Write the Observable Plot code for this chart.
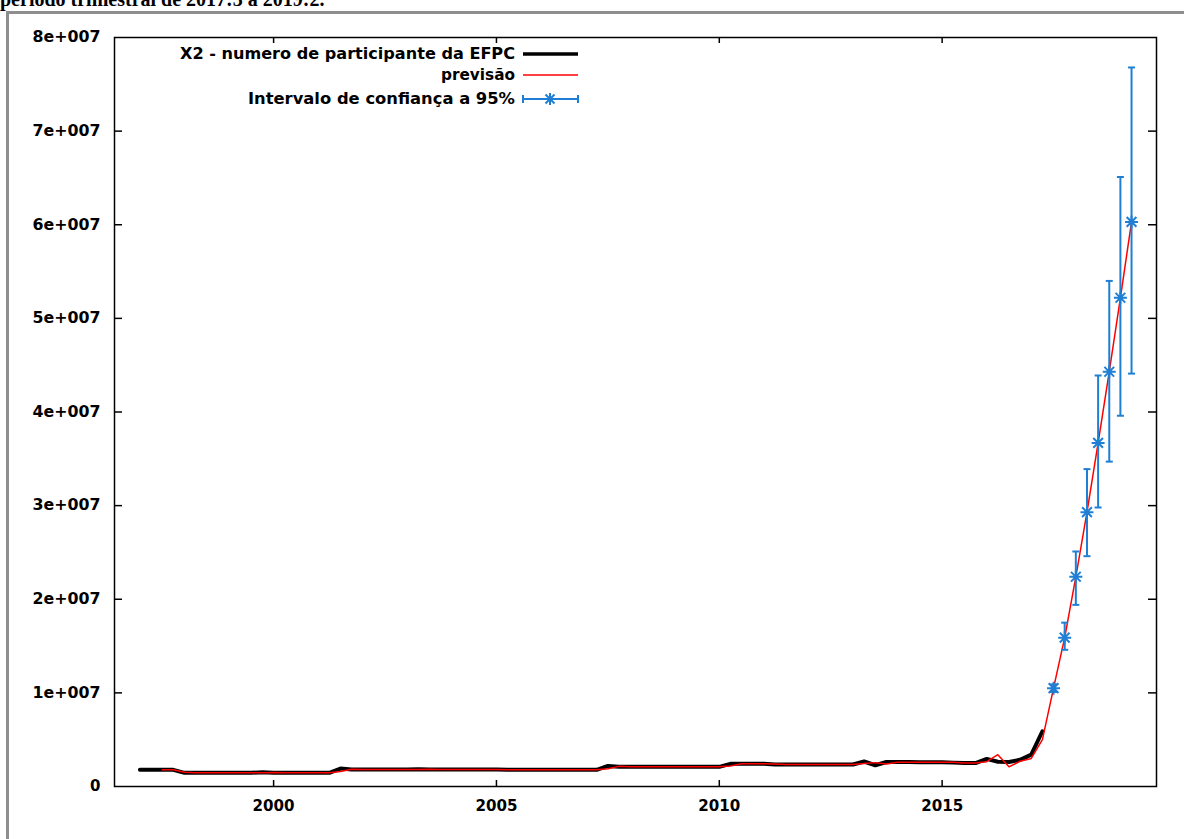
<!DOCTYPE html>
<html>
<head>
<meta charset="utf-8">
<script src="https://cdn.jsdelivr.net/npm/d3@7"></script>
<script src="https://cdn.jsdelivr.net/npm/@observablehq/plot@0.6"></script>
<style>
  html, body { margin: 0; padding: 0; background: #fff; width: 1184px; height: 839px; overflow: hidden; }
  #wrap { position: relative; width: 1184px; height: 839px; }
  #title { position: absolute; left: 0; top: -11px; font-family: "Liberation Serif", serif; font-weight: bold; font-size: 20px; line-height: 1; white-space: nowrap; color: #000; }
  #frame { position: absolute; left: 6px; top: 11px; width: 1300px; height: 900px; border-left: 3px solid #8e8e8e; border-top: 3px solid #8e8e8e; background: #fff; }
  #chart { position: absolute; left: 0; top: 0; }
  #legend { position: absolute; left: 0; top: 0; pointer-events: none; }
</style>
</head>
<body>
<div id="wrap">
  <div id="title">período trimestral de 2017:3 a 2019:2.</div>
  <div id="frame"></div>
  <div id="chart"></div>
  <svg id="legend" width="1184" height="839"></svg>
</div>
<script>
// ---- data ----
const firstYear = 1997;          // first observation 1997:1, quarterly
const observed = [               // X2 - numero de participante da EFPC, 1997:1 .. 2017:2
  1.78e6, 1.78e6, 1.78e6, 1.78e6,
  1.46e6, 1.46e6, 1.46e6, 1.46e6, 1.46e6, 1.46e6, 1.46e6, 1.52e6, 1.46e6, 1.46e6, 1.46e6, 1.46e6, 1.46e6, 1.46e6,
  1.92e6,
  1.81e6, 1.81e6, 1.81e6, 1.81e6, 1.81e6, 1.81e6, 1.85e6, 1.81e6, 1.81e6, 1.81e6, 1.81e6, 1.81e6, 1.81e6, 1.81e6,
  1.78e6, 1.78e6, 1.78e6, 1.78e6, 1.78e6, 1.78e6, 1.78e6, 1.78e6, 1.78e6,
  2.20e6,
  2.10e6, 2.10e6, 2.10e6, 2.10e6, 2.10e6, 2.10e6, 2.10e6, 2.10e6, 2.10e6, 2.10e6,
  2.42e6, 2.42e6, 2.42e6, 2.42e6,
  2.35e6, 2.35e6, 2.35e6, 2.35e6, 2.35e6, 2.35e6, 2.35e6, 2.35e6,
  2.67e6, 2.27e6,
  2.62e6, 2.62e6, 2.62e6, 2.60e6, 2.60e6, 2.60e6, 2.55e6, 2.50e6, 2.50e6,
  2.95e6, 2.65e6, 2.62e6, 2.85e6, 3.40e6, 5.90e6
];
const fittedStart = "1997:3";    // previsão (in-sample), 1997:3 .. 2017:2
const fitted = [
  1.78e6, 1.78e6,
  1.52e6, 1.46e6, 1.46e6, 1.46e6, 1.46e6, 1.46e6, 1.46e6, 1.46e6, 1.50e6, 1.46e6, 1.46e6, 1.46e6, 1.46e6, 1.46e6,
  1.60e6,
  1.85e6, 1.81e6, 1.81e6, 1.81e6, 1.81e6, 1.81e6, 1.81e6, 1.84e6, 1.81e6, 1.81e6, 1.81e6, 1.81e6, 1.81e6, 1.81e6,
  1.80e6, 1.78e6, 1.78e6, 1.78e6, 1.78e6, 1.78e6, 1.78e6, 1.78e6, 1.78e6,
  1.90e6,
  2.15e6, 2.10e6, 2.10e6, 2.10e6, 2.10e6, 2.10e6, 2.10e6, 2.10e6, 2.10e6, 2.10e6,
  2.20e6, 2.42e6, 2.42e6, 2.42e6,
  2.40e6, 2.35e6, 2.35e6, 2.35e6, 2.35e6, 2.35e6, 2.35e6, 2.35e6,
  2.45e6, 2.55e6,
  2.40e6, 2.60e6, 2.60e6, 2.60e6, 2.60e6, 2.60e6, 2.58e6, 2.52e6, 2.50e6,
  2.65e6, 3.40e6, 2.10e6, 2.70e6, 3.00e6, 5.00e6
];
const forecastQuarters = ["2017:3", "2017:4", "2018:1", "2018:2", "2018:3", "2018:4", "2019:1", "2019:2"];
const forecastValues = [10.5e6, 15.9e6, 22.4e6, 29.3e6, 36.7e6, 44.3e6, 52.2e6, 60.3e6];
const forecastLow    = [10.1e6, 14.6e6, 19.4e6, 24.6e6, 29.8e6, 34.7e6, 39.6e6, 44.1e6];
const forecastHigh   = [10.9e6, 17.5e6, 25.1e6, 33.9e6, 43.9e6, 54.0e6, 65.1e6, 76.8e6];
const xTicks = [2000, 2005, 2010, 2015];
const yTicks = [0, 1e7, 2e7, 3e7, 4e7, 5e7, 6e7, 7e7, 8e7];
const legendLabels = ["X2 - numero de participante da EFPC", "previsão", "Intervalo de confiança a 95%"];

// ---- build tables ----
const qToT = s => { const [y, q] = s.split(":").map(Number); return y + (q - 1) / 4; };
const obsData = observed.map((v, i) => ({t: firstYear + i / 4, v}));
const t0 = qToT(fittedStart);
const redData = fitted.map((v, i) => ({t: t0 + i / 4, v}))
  .concat(forecastQuarters.map((q, i) => ({t: qToT(q), v: forecastValues[i]})));
const fcData = forecastQuarters.map((q, i) => ({t: qToT(q), v: forecastValues[i], lo: forecastLow[i], hi: forecastHigh[i]}));

const BLUE = "#1f7fd4";
const W = 1184, H = 839, ML = 114, MR = 28, MT = 37, MB = 53;
const plotW = W - ML - MR, plotH = H - MT - MB;

const starSymbol = { draw(ctx, size) {
  const r = Math.sqrt(size / Math.PI), d = r * 0.75;
  ctx.moveTo(-r, 0); ctx.lineTo(r, 0);
  ctx.moveTo(0, -r); ctx.lineTo(0, r);
  ctx.moveTo(-d, -d); ctx.lineTo(d, d);
  ctx.moveTo(-d, d); ctx.lineTo(d, -d);
}};
const capSymbol = { draw(ctx, size) {
  const r = Math.sqrt(size / Math.PI);
  ctx.moveTo(-r, 0); ctx.lineTo(r, 0);
}};

const fmtY = d => d === 0 ? "0" : `${d / 1e7}e+007`;
const font = {fontFamily: "DejaVu Sans", fontWeight: "bold", fontSize: 15, fill: "#000"};

const chart = Plot.plot({
  width: W, height: H,
  marginLeft: ML, marginRight: MR, marginTop: MT, marginBottom: MB,
  x: {domain: [1996.43, 2019.81]},
  y: {domain: [0, 8e7]},
  style: {background: "transparent", color: "#000"},
  marks: [
    Plot.axisY({ticks: yTicks, tickSize: 0, tickPadding: 14, tickFormat: fmtY, label: null, ...font}),
    Plot.axisX({ticks: xTicks, tickSize: 0, tickPadding: 14, tickFormat: d => String(d), label: null, ...font}),
    Plot.ruleY(yTicks.slice(1, -1), {insetRight: plotW - 8, stroke: "#000", strokeWidth: 1.5}),
    Plot.ruleY(yTicks.slice(1, -1), {insetLeft: plotW - 8, stroke: "#000", strokeWidth: 1.5}),
    Plot.ruleX(xTicks, {insetBottom: plotH - 6, stroke: "#000", strokeWidth: 1.5}),
    Plot.ruleX(xTicks, {insetTop: plotH - 6, stroke: "#000", strokeWidth: 1.5}),
    Plot.line(obsData, {x: "t", y: "v", stroke: "#000", strokeWidth: 4, strokeLinejoin: "miter"}),
    Plot.line(redData, {x: "t", y: "v", stroke: "#ff0000", strokeWidth: 1.5}),
    Plot.ruleX(fcData, {x: "t", y1: "lo", y2: "hi", stroke: BLUE, strokeWidth: 2}),
    Plot.dot(fcData, {x: "t", y: "lo", symbol: capSymbol, r: 3.5, fill: "none", stroke: BLUE, strokeWidth: 2}),
    Plot.dot(fcData, {x: "t", y: "hi", symbol: capSymbol, r: 3.5, fill: "none", stroke: BLUE, strokeWidth: 2}),
    Plot.dot(fcData, {x: "t", y: "v", symbol: starSymbol, r: 6.5, fill: "none", stroke: BLUE, strokeWidth: 2}),
    Plot.frame({stroke: "#000", strokeWidth: 1.5})
  ]
});
document.getElementById("chart").appendChild(chart);

// stretch tick labels to the reference's wide bold look
d3.select(chart).selectAll('g[aria-label="y-axis tick label"] text').each(function() {
  const s = this.textContent;
  if (s.length > 1) d3.select(this).attr("textLength", 68).attr("lengthAdjust", "spacingAndGlyphs");
});
d3.select(chart).selectAll('g[aria-label="x-axis tick label"] text')
  .attr("textLength", 42).attr("lengthAdjust", "spacingAndGlyphs");

// ---- legend ----
const lg = d3.select("#legend");
const rows = [
  {y: 54, w: 335, kind: "black"},
  {y: 75, w: 74, kind: "red"},
  {y: 99, w: 267, kind: "blue"}
];
rows.forEach((r, i) => {
  lg.append("text").attr("x", 515).attr("y", r.y).attr("dy", "0.36em")
    .attr("text-anchor", "end").attr("font-family", "DejaVu Sans").attr("font-weight", "bold")
    .attr("font-size", 15).attr("textLength", r.w).attr("lengthAdjust", "spacingAndGlyphs")
    .text(legendLabels[i]);
  if (r.kind === "black") {
    lg.append("line").attr("x1", 523).attr("x2", 578).attr("y1", r.y).attr("y2", r.y).attr("stroke", "#000").attr("stroke-width", 3.5);
  } else if (r.kind === "red") {
    lg.append("line").attr("x1", 523).attr("x2", 578).attr("y1", r.y).attr("y2", r.y).attr("stroke", "#ff0000").attr("stroke-width", 1.5);
  } else {
    lg.append("line").attr("x1", 523).attr("x2", 578).attr("y1", r.y).attr("y2", r.y).attr("stroke", BLUE).attr("stroke-width", 2);
    [523, 578].forEach(x => lg.append("line").attr("x1", x).attr("x2", x).attr("y1", r.y - 4).attr("y2", r.y + 4).attr("stroke", BLUE).attr("stroke-width", 2));
    const p = d3.path(); starSymbol.draw(p, Math.PI * 6 * 6);
    lg.append("path").attr("d", p.toString()).attr("transform", `translate(550,${r.y})`).attr("fill", "none").attr("stroke", BLUE).attr("stroke-width", 2);
  }
});
</script>
</body>
</html>
